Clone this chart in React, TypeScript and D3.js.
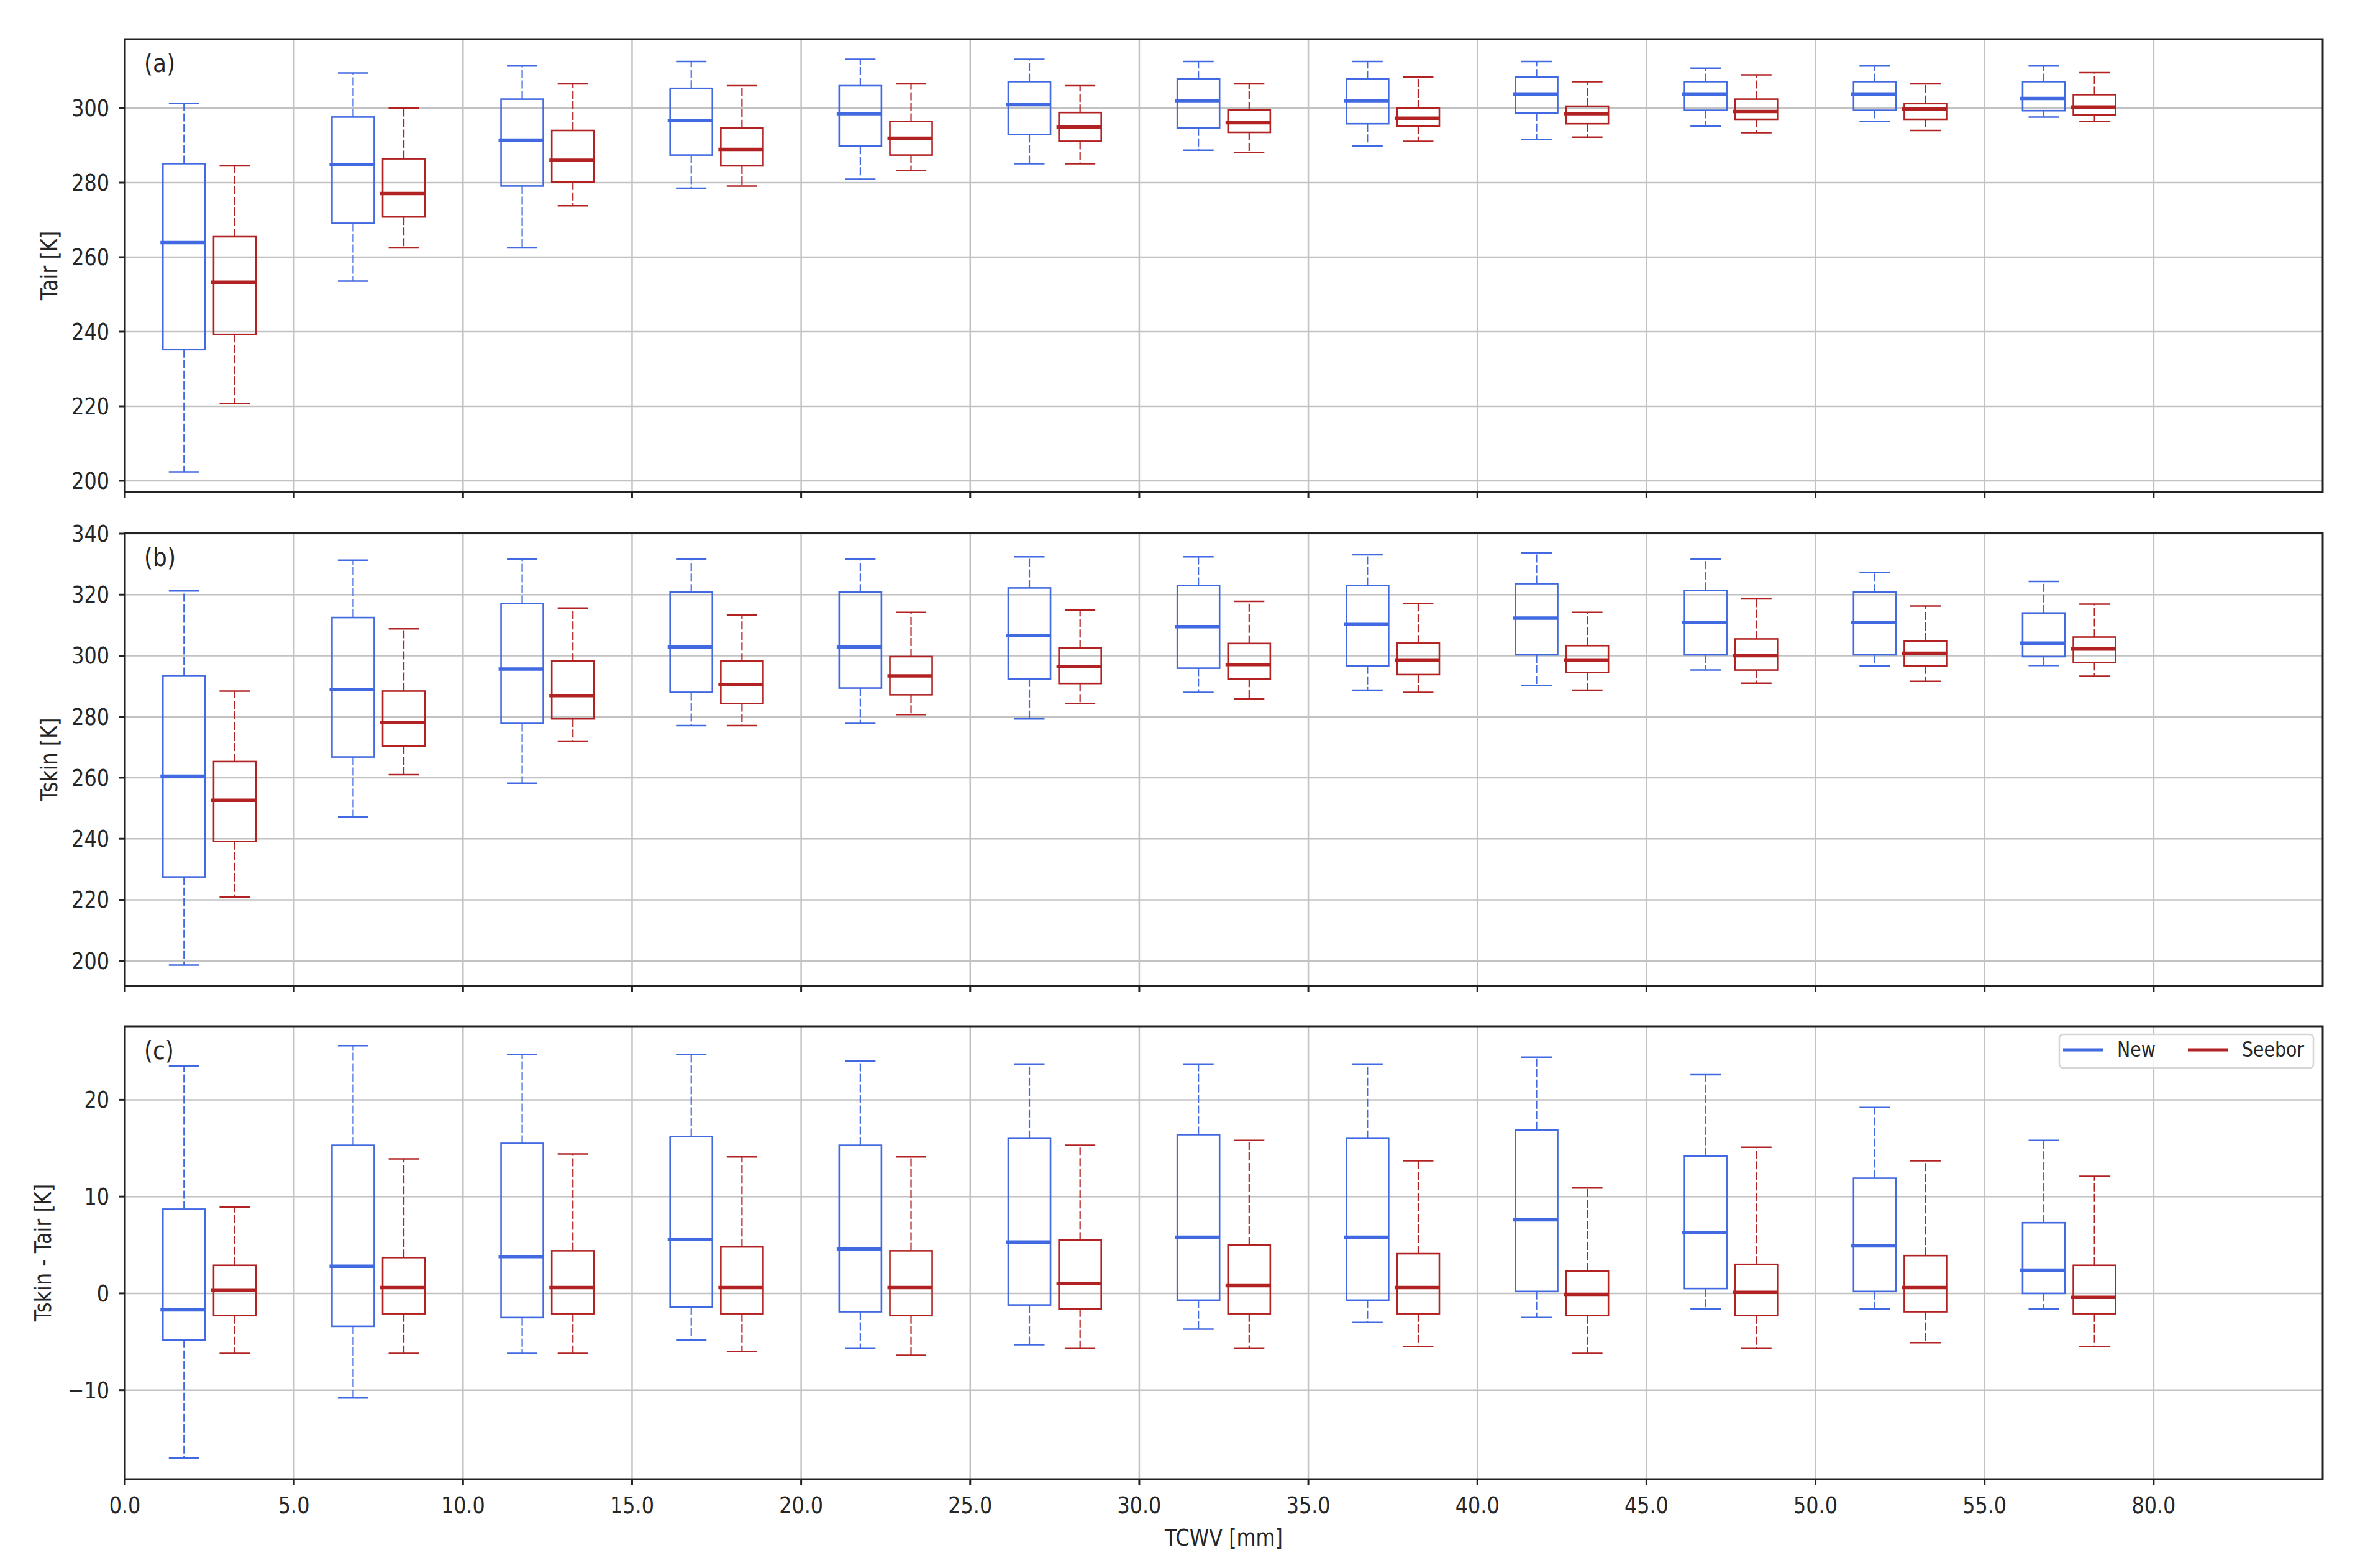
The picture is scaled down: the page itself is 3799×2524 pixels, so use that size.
import React, { useRef, useEffect } from "react";
import * as d3 from "d3";

// ---- data ----
const binCenters = [2.5, 7.5, 12.5, 17.5, 22.5, 27.5, 32.5, 37.5, 42.5, 47.5, 52.5, 57.5];
const xTickValues = [0, 5, 10, 15, 20, 25, 30, 35, 40, 45, 50, 55, 60];
const xTickLabels = ["0.0", "5.0", "10.0", "15.0", "20.0", "25.0", "30.0", "35.0", "40.0", "45.0", "50.0", "55.0", "80.0"];
const seriesNames = ["New", "Seebor"];
const seriesColors = ["#4169e1", "#b22222"];

// each entry: [lower whisker, q1, median, q3, upper whisker]
const tairNew = [
  [202.4, 235.2, 263.9, 285.1, 301.2], [253.6, 269.1, 284.8, 297.6, 309.4],
  [262.5, 279.1, 291.4, 302.4, 311.3], [278.5, 287.4, 296.7, 305.3, 312.5],
  [280.9, 289.8, 298.5, 306.0, 313.1], [285.1, 292.9, 300.9, 307.1, 313.1],
  [288.7, 294.7, 302.0, 307.8, 312.5], [289.8, 295.8, 302.0, 307.8, 312.5],
  [291.6, 298.7, 303.8, 308.3, 312.5], [295.2, 299.4, 303.8, 307.1, 310.7],
  [296.4, 299.4, 303.8, 307.1, 311.3], [297.6, 299.3, 302.6, 307.1, 311.3],
];
const tairSeebor = [
  [220.8, 239.3, 253.3, 265.5, 284.5], [262.5, 270.8, 277.1, 286.4, 300.0],
  [273.8, 280.2, 286.0, 294.0, 306.5], [279.1, 284.5, 288.9, 294.7, 306.0],
  [283.3, 287.4, 291.9, 296.4, 306.5], [285.1, 291.1, 294.9, 298.8, 306.0],
  [288.1, 293.5, 296.1, 299.5, 306.5], [291.1, 295.2, 297.3, 300.0, 308.3],
  [292.2, 295.8, 298.5, 300.5, 307.1], [293.4, 297.0, 299.1, 302.4, 308.9],
  [294.0, 297.0, 299.7, 301.2, 306.5], [296.4, 298.2, 300.3, 303.6, 309.5],
];
const tskinNew = [
  [198.6, 227.5, 260.5, 293.5, 321.2], [247.2, 266.8, 288.9, 312.5, 331.3],
  [258.2, 277.8, 295.6, 317.1, 331.6], [277.1, 288.0, 302.9, 320.8, 331.6],
  [277.8, 289.4, 302.9, 320.8, 331.6], [279.3, 292.4, 306.6, 322.2, 332.4],
  [288.0, 295.9, 309.5, 323.0, 332.4], [288.7, 296.7, 310.2, 323.0, 333.1],
  [290.2, 300.3, 312.3, 323.6, 333.7], [295.3, 300.3, 310.9, 321.4, 331.6],
  [296.7, 300.3, 310.9, 320.8, 327.3], [296.8, 299.7, 304.1, 314.0, 324.3],
];
const tskinSeebor = [
  [220.9, 239.1, 252.6, 265.3, 288.4], [261.0, 270.4, 278.1, 288.4, 308.8],
  [272.0, 279.3, 286.9, 298.2, 315.6], [277.1, 284.3, 290.6, 298.2, 313.4],
  [280.7, 287.2, 293.4, 299.7, 314.2], [284.3, 290.9, 296.4, 302.5, 314.9],
  [285.8, 292.3, 297.1, 304.0, 317.8], [288.0, 293.8, 298.6, 304.1, 317.1],
  [288.7, 294.5, 298.6, 303.3, 314.2], [291.0, 295.3, 300.0, 305.5, 318.6],
  [291.6, 296.7, 300.8, 304.8, 316.3], [293.3, 297.8, 302.2, 306.1, 316.9],
];
const diffNew = [
  [-17.0, -4.8, -1.7, 8.7, 23.5], [-10.8, -3.4, 2.8, 15.3, 25.6],
  [-6.2, -2.5, 3.8, 15.5, 24.7], [-4.8, -1.4, 5.6, 16.2, 24.7],
  [-5.7, -1.9, 4.6, 15.3, 24.0], [-5.3, -1.2, 5.3, 16.0, 23.7],
  [-3.7, -0.7, 5.8, 16.4, 23.7], [-3.0, -0.7, 5.8, 16.0, 23.7],
  [-2.5, 0.2, 7.6, 16.9, 24.4], [-1.6, 0.5, 6.3, 14.2, 22.6],
  [-1.6, 0.2, 4.9, 11.9, 19.2], [-1.6, 0.0, 2.4, 7.3, 15.8],
];
const diffSeebor = [
  [-6.2, -2.3, 0.3, 2.9, 8.9], [-6.2, -2.1, 0.6, 3.7, 13.9],
  [-6.2, -2.1, 0.6, 4.4, 14.4], [-6.0, -2.1, 0.6, 4.8, 14.1],
  [-6.4, -2.3, 0.6, 4.4, 14.1], [-5.7, -1.6, 1.0, 5.5, 15.3],
  [-5.7, -2.1, 0.8, 5.0, 15.8], [-5.5, -2.1, 0.6, 4.1, 13.7],
  [-6.2, -2.3, -0.1, 2.3, 10.9], [-5.7, -2.3, 0.1, 3.0, 15.1],
  [-5.1, -1.9, 0.6, 3.9, 13.7], [-5.5, -2.1, -0.4, 2.9, 12.1],
];

const panelLabels = ["(a)", "(b)", "(c)"];
const yLabels = ["Tair [K]", "Tskin [K]", "Tskin - Tair [K]"];
const yDomains = [[197.0, 318.5], [191.8, 340.2], [-19.2, 27.6]];
const yTicks = [
  [200, 220, 240, 260, 280, 300],
  [200, 220, 240, 260, 280, 300, 320, 340],
  [-10, 0, 10, 20],
];
const panelSeries = [
  [tairNew, tairSeebor],
  [tskinNew, tskinSeebor],
  [diffNew, diffSeebor],
];

const W = 3799;
const H = 2524;
const FONT = "DejaVu Sans";
const SQUASH = 0.86;
const TEXT_COLOR = "#262626";

function Chart() {
  const ref = useRef<SVGSVGElement | null>(null);

  useEffect(() => {
    const svg = d3.select(ref.current);
    svg.selectAll("*").remove();

    const dims = { left: 201, right: 3739, tops: [63, 858, 1652], height: 729 };

    const addText = (
      g: any, x: number, y: number, str: string, size: number,
      anchor = "middle", rotate = 0, squash = SQUASH
    ) =>
      g.append("text")
        .attr("transform", `translate(${x},${y}) rotate(${rotate}) scale(${squash},1)`)
        .attr("text-anchor", anchor)
        .attr("dominant-baseline", "central")
        .style("font-family", FONT)
        .style("font-size", `${size}px`)
        .attr("fill", TEXT_COLOR)
        .text(str);

    const xScale = d3.scaleLinear().domain([0, 65]).range([dims.left, dims.right]);
    const offset = 0.75;
    const boxW = xScale(1.25) - xScale(0);
    const capW = xScale(0.9) - xScale(0);

    svg.append("rect").attr("width", W).attr("height", H).attr("fill", "white");

    panelSeries.forEach((series, pi) => {
      const top = dims.tops[pi];
      const bottom = top + dims.height;
      const yScale = d3.scaleLinear().domain(yDomains[pi]).range([bottom, top]);
      const g = svg.append("g");

      // grid
      g.append("g").selectAll("line").data(xTickValues).join("line")
        .attr("x1", (d) => xScale(d)).attr("x2", (d) => xScale(d))
        .attr("y1", top).attr("y2", bottom)
        .attr("stroke", "#c2c2c2").attr("stroke-width", 2.5);
      g.append("g").selectAll("line").data(yTicks[pi]).join("line")
        .attr("x1", dims.left).attr("x2", dims.right)
        .attr("y1", (d) => yScale(d)).attr("y2", (d) => yScale(d))
        .attr("stroke", "#c2c2c2").attr("stroke-width", 2.5);

      // boxes
      series.forEach((rows, si) => {
        const color = seriesColors[si];
        const sign = si === 0 ? -1 : 1;
        const bg = g.append("g").selectAll("g").data(rows).join("g");
        const cx = (_d: number[], i: number) => xScale(binCenters[i] + sign * offset);

        // whiskers
        bg.append("line")
          .attr("x1", cx).attr("x2", cx)
          .attr("y1", (d) => yScale(d[3])).attr("y2", (d) => yScale(d[4]))
          .attr("stroke", color).attr("stroke-width", 2.2).attr("stroke-dasharray", "13,4");
        bg.append("line")
          .attr("x1", cx).attr("x2", cx)
          .attr("y1", (d) => yScale(d[1])).attr("y2", (d) => yScale(d[0]))
          .attr("stroke", color).attr("stroke-width", 2.2).attr("stroke-dasharray", "13,4");
        // caps
        [0, 4].forEach((k) => {
          bg.append("line")
            .attr("x1", (d, i) => cx(d, i) - capW / 2).attr("x2", (d, i) => cx(d, i) + capW / 2)
            .attr("y1", (d) => yScale(d[k])).attr("y2", (d) => yScale(d[k]))
            .attr("stroke", color).attr("stroke-width", 2.5);
        });
        // box
        bg.append("rect")
          .attr("x", (d, i) => cx(d, i) - boxW / 2)
          .attr("y", (d) => yScale(d[3]))
          .attr("width", boxW)
          .attr("height", (d) => yScale(d[1]) - yScale(d[3]))
          .attr("fill", "none").attr("stroke", color).attr("stroke-width", 2.6);
        // median
        bg.append("line")
          .attr("x1", (d, i) => cx(d, i) - boxW / 2 - 4).attr("x2", (d, i) => cx(d, i) + boxW / 2)
          .attr("y1", (d) => yScale(d[2])).attr("y2", (d) => yScale(d[2]))
          .attr("stroke", color).attr("stroke-width", 5.5);
      });

      // spines
      g.append("rect")
        .attr("x", dims.left).attr("y", top)
        .attr("width", dims.right - dims.left).attr("height", dims.height)
        .attr("fill", "none").attr("stroke", "#222").attr("stroke-width", 3);

      // x ticks
      g.append("g").selectAll("line").data(xTickValues).join("line")
        .attr("x1", (d) => xScale(d)).attr("x2", (d) => xScale(d))
        .attr("y1", bottom).attr("y2", bottom + 10)
        .attr("stroke", "#222").attr("stroke-width", 3);
      // y ticks + labels
      const fmt = d3.format("d");
      yTicks[pi].forEach((t) => {
        g.append("line")
          .attr("x1", dims.left - 10).attr("x2", dims.left)
          .attr("y1", yScale(t)).attr("y2", yScale(t))
          .attr("stroke", "#222").attr("stroke-width", 3);
        addText(g, dims.left - 25, yScale(t), fmt(t), 37, "end");
      });

      // panel label
      addText(g, 232, top + 39, panelLabels[pi], 40, "start", 0, 0.9);
      // y label
      const hasNeg = yTicks[pi].some((t) => t < 0);
      addText(g, hasNeg ? 69 : 79, (top + bottom) / 2, yLabels[pi], 37, "middle", -90);

      if (pi === 2) {
        xTickValues.forEach((t, i) => {
          addText(g, xScale(t), bottom + 42, xTickLabels[i], 37, "middle");
        });
        addText(g, (dims.left + dims.right) / 2, bottom + 94, "TCWV [mm]", 37, "middle");

        // legend
        const lg = g.append("g");
        const lx = dims.right - 15 - 409;
        const ly = top + 13;
        lg.append("rect")
          .attr("x", lx).attr("y", ly).attr("width", 409).attr("height", 54).attr("rx", 6)
          .attr("fill", "white").attr("fill-opacity", 0.8)
          .attr("stroke", "#d6d6d6").attr("stroke-width", 2.5);
        const itemX = [lx + 6, lx + 207];
        seriesNames.forEach((name, si) => {
          lg.append("line")
            .attr("x1", itemX[si]).attr("x2", itemX[si] + 65)
            .attr("y1", ly + 25).attr("y2", ly + 25)
            .attr("stroke", seriesColors[si]).attr("stroke-width", 5);
          addText(lg, itemX[si] + 87, ly + 24, name, 33, "start");
        });
      }
    });
  }, []);

  return (
    <svg
      ref={ref}
      width={W}
      height={H}
      style={{ position: "absolute", left: 0, top: 0, display: "block" }}
    />
  );
}

export default function App() {
  return <Chart />;
}
